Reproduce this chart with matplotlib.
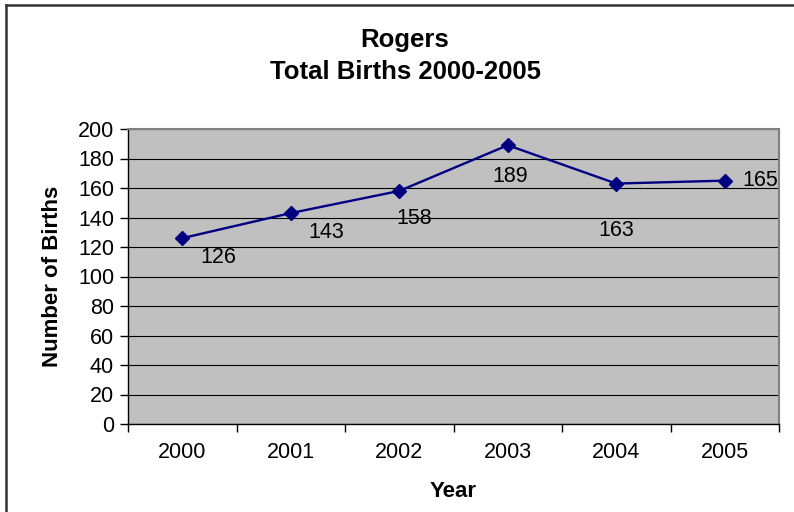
import matplotlib.pyplot as plt
from matplotlib.lines import Line2D

years = ["2000", "2001", "2002", "2003", "2004", "2005"]
births = [126, 143, 158, 189, 163, 165]
# manual label placement (pixel offsets from each point), like the Excel chart
label_offsets = [(36, -19), (36, -19), (15, -28), (2, -31), (0, -47), (36, 0)]

plt.rcParams["font.family"] = ["Liberation Sans", "DejaVu Sans"]

fig = plt.figure(figsize=(7.94, 5.12), dpi=100)
ax = fig.add_axes([128 / 794, 1 - 424 / 512, (779 - 128) / 794, (424 - 129) / 512])

x = list(range(len(years)))
ax.set_facecolor("#C0C0C0")
ax.plot(x, births, color="#000080", linewidth=1.7, marker="D", markersize=7,
        markerfacecolor="#000080", markeredgecolor="#000080", zorder=3)

for xi, v, (dx, dy) in zip(x, births, label_offsets):
    ax.annotate(str(v), (xi, v), xytext=(dx, dy), textcoords="offset pixels",
                ha="center", va="center", fontsize=15.5, color="black")

ax.set_xlim(-0.5, len(years) - 0.5)
ax.set_ylim(0, 200)
ax.set_yticks(range(0, 201, 20))
ax.yaxis.grid(True, color="black", linewidth=0.8)
ax.set_axisbelow(True)

# category ticks sit on the boundaries, labels centred in each category
ax.set_xticks([i - 0.5 for i in range(len(years) + 1)])
ax.set_xticklabels([])
ax.set_xticks(x, minor=True)
ax.set_xticklabels(years, minor=True, fontsize=15.5)
ax.tick_params(axis="x", which="minor", length=0, pad=13)
ax.tick_params(axis="x", which="major", length=6, direction="out", width=1)
ax.tick_params(axis="y", length=6, direction="out", width=1, labelsize=15.5, pad=4)

for side in ["left", "bottom"]:
    ax.spines[side].set_color("black")
    ax.spines[side].set_linewidth(1)
for side in ["top", "right"]:
    ax.spines[side].set_color("#808080")
    ax.spines[side].set_linewidth(1.5)

ax.set_xlabel("Year", fontsize=16, fontweight="bold", labelpad=13)
ax.set_ylabel("Number of Births", fontsize=16, fontweight="bold", labelpad=11)

fig.text(405 / 794, 1 - 40 / 512, "Rogers", ha="center", va="center",
         fontsize=18.5, fontweight="bold")
fig.text(405 / 794, 1 - 72 / 512, "Total Births 2000-2005", ha="center", va="center",
         fontsize=18.5, fontweight="bold")

# chart frame (left and top edges visible)
fig.add_artist(Line2D([6 / 794, 6 / 794], [0, 1 - 5 / 512], color="#333333", linewidth=1.8))
fig.add_artist(Line2D([6 / 794, 1], [1 - 5 / 512, 1 - 5 / 512], color="#333333", linewidth=1.8))

fig.savefig("out.png", dpi=100)
